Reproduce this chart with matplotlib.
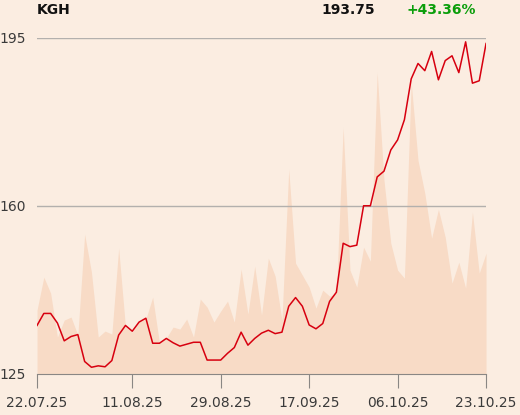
import numpy as np
import matplotlib
matplotlib.use('Agg')
import matplotlib.pyplot as plt

# KGH daily close, trading days 22.07.25 - 23.10.25
close = [135.1, 137.6, 137.6, 135.6, 131.9, 132.8, 133.2, 127.6, 126.4, 126.7,
         126.5, 127.8, 133.1, 135.1, 133.9, 135.8, 136.6, 131.4, 131.4, 132.4,
         131.5, 130.8, 131.2, 131.6, 131.6, 127.9, 127.9, 127.9, 129.3, 130.5,
         133.7, 131.0, 132.4, 133.5, 134.1, 133.4, 133.7, 139.1, 140.9, 139.1,
         135.2, 134.4, 135.5, 140.1, 142.0, 152.2, 151.5, 151.8, 160.0, 160.0,
         166.0, 167.2, 171.6, 173.7, 177.9, 186.4, 189.6, 188.1, 192.1, 186.2,
         190.2, 191.2, 187.7, 194.1, 185.5, 186.0, 193.75]

# volume in thousands of shares
volume = [640, 970, 810, 370, 540, 570, 390, 1400, 1020, 370,
          430, 400, 1260, 470, 420, 520, 550, 770, 310, 360,
          470, 450, 550, 370, 750, 670, 520, 630, 730, 520,
          1050, 600, 1080, 590, 1160, 980, 540, 2050, 1110, 990,
          870, 660, 840, 780, 810, 2470, 1040, 870, 1270, 1130,
          3020, 1940, 1310, 1040, 960, 2920, 2140, 1810, 1360, 1650,
          1370, 910, 1120, 860, 1620, 1010, 1210]

tick_idx = [0, 14, 27, 40, 53, 66]
tick_labels = ['22.07.25', '11.08.25', '29.08.25', '17.09.25', '06.10.25', '23.10.25']

bg = '#fbede1'
x = np.arange(len(close))

fig = plt.figure(figsize=(5.2, 4.15), dpi=100, facecolor=bg)
ax = fig.add_axes([0.0712, 0.0988, 0.8635, 0.8108])
ax.set_facecolor(bg)

# volume area behind the price line
axv = ax.twinx()
axv.fill_between(x, volume, 0, color='#f8dbc6', lw=0)
axv.set_ylim(0, 3370)
axv.set_xlim(0, len(close) - 1)
axv.axis('off')
ax.set_zorder(axv.get_zorder() + 1)
ax.patch.set_visible(False)
axv.patch.set_facecolor(bg)

ax.plot(x, close, color='#d7000f', lw=1.1)
ax.set_xlim(0, len(close) - 1)
ax.set_ylim(125, 195)

for v in [160, 195]:
    ax.axhline(v, color='#b3b0ad', lw=1, zorder=0)

ax.set_yticks([125, 160, 195])
ax.set_xticks(tick_idx)
ax.set_xticklabels(tick_labels)
for s in ['top', 'right', 'left']:
    ax.spines[s].set_visible(False)
ax.spines['bottom'].set_color('#8a8784')
ax.tick_params(axis='x', length=10, color='#8a8784', labelsize=10,
               labelcolor='#3a3a3a', pad=6)
ax.tick_params(axis='y', length=0, labelsize=10, labelcolor='#3a3a3a', pad=8)

fig.text(0.0712, 0.977, 'KGH', fontsize=10, fontweight='bold', color='#111111', va='center')
fig.text(0.721, 0.977, '193.75', fontsize=10, fontweight='bold', color='#111111',
         va='center', ha='right')
fig.text(0.781, 0.977, '+43.36%', fontsize=10, fontweight='bold', color='#0b9e0b', va='center')

fig.savefig('out.png', dpi=100, facecolor=bg)
